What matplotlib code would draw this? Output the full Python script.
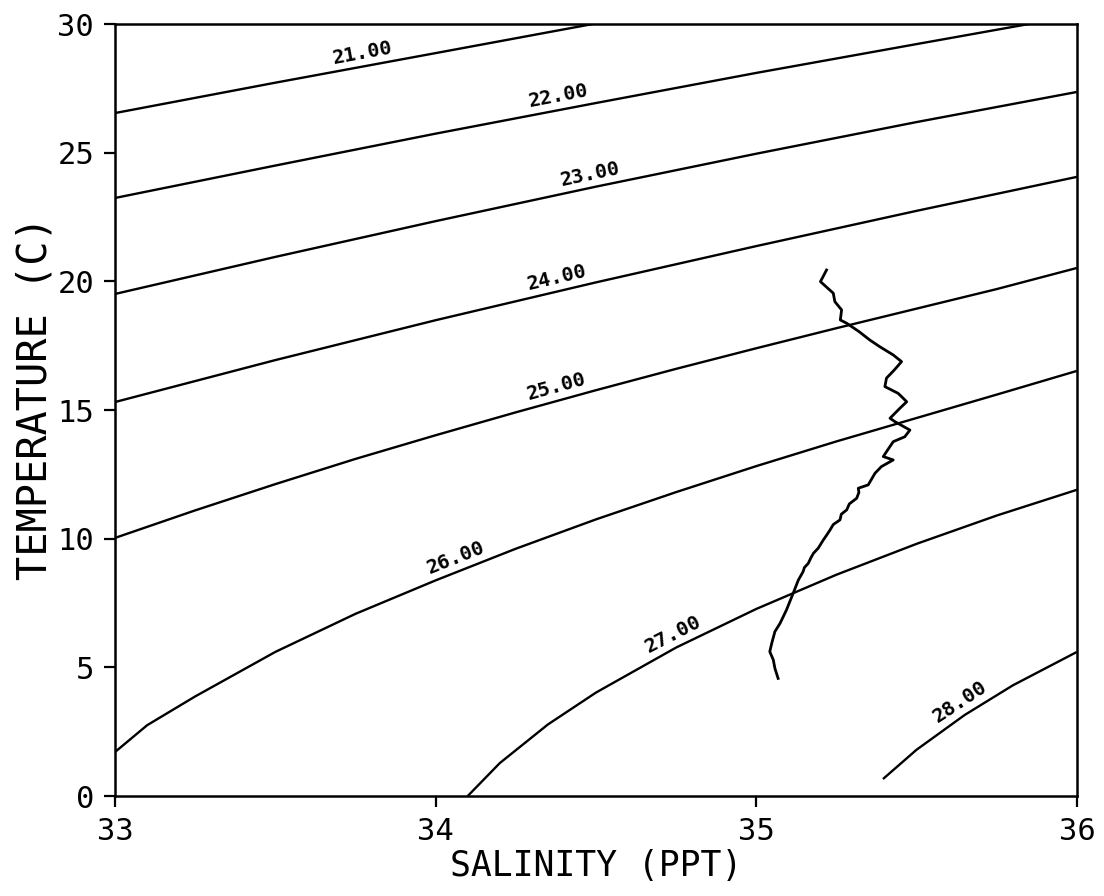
"""T-S diagram: temperature/salinity profile over sigma-t isopycnals."""

import matplotlib
matplotlib.use("Agg")
import matplotlib.pyplot as plt
import numpy as np

# --- isopycnals (salinity ppt, temperature C) ---
sal_21 = [33.0, 33.5, 34.0, 34.49]
temp_21 = [26.54, 27.72, 28.87, 30.0]

sal_22 = [33.0, 33.5, 34.0, 34.5, 35.0, 35.5, 35.85]
temp_22 = [23.24, 24.5, 25.74, 26.93, 28.1, 29.22, 30.0]

sal_23 = [33.0, 33.5, 34.0, 34.5, 35.0, 35.5, 36.0]
temp_23 = [19.51, 20.95, 22.34, 23.68, 24.96, 26.19, 27.36]

sal_24 = [33.0, 33.5, 34.0, 34.5, 35.0, 35.5, 36.0]
temp_24 = [15.31, 16.94, 18.49, 19.96, 21.37, 22.74, 24.06]

sal_25 = [33.0, 33.25, 33.5, 33.75, 34.0, 34.25, 34.5, 34.75, 35.0, 35.25,
          35.5, 35.75, 36.0]
temp_25 = [10.03, 11.1, 12.12, 13.1, 14.02, 14.91, 15.77, 16.6, 17.4, 18.18,
           18.94, 19.7, 20.52]

sal_26 = [33.0, 33.1, 33.25, 33.5, 33.75, 34.0, 34.25, 34.5, 34.75, 35.0,
          35.25, 35.5, 35.75, 36.0]
temp_26 = [1.71, 2.75, 3.87, 5.6, 7.08, 8.38, 9.61, 10.75, 11.81, 12.82,
           13.78, 14.69, 15.6, 16.52]

sal_27 = [34.1, 34.2, 34.35, 34.5, 34.75, 35.0, 35.25, 35.5, 35.75, 36.0]
temp_27 = [0.0, 1.28, 2.78, 4.02, 5.77, 7.27, 8.6, 9.8, 10.9, 11.9]

sal_28 = [35.395, 35.5, 35.65, 35.8, 36.0]
temp_28 = [0.66, 1.8, 3.15, 4.3, 5.6]

sigma_levels = [21.0, 22.0, 23.0, 24.0, 25.0, 26.0, 27.0, 28.0]
label_sal = [33.78, 34.39, 34.49, 34.39, 34.39, 34.08, 34.76, 35.66]

# --- CTD cast ---
cast_sal = [35.219, 35.200, 35.240, 35.245, 35.266, 35.262, 35.282, 35.320,
            35.354, 35.385, 35.427, 35.453, 35.430, 35.406, 35.401, 35.442,
            35.453, 35.469, 35.448, 35.417, 35.432, 35.479, 35.463, 35.427,
            35.406, 35.396, 35.427, 35.390, 35.370, 35.349, 35.318, 35.320,
            35.313, 35.290, 35.282, 35.265, 35.261, 35.240, 35.230, 35.220,
            35.209, 35.193, 35.178, 35.170, 35.162, 35.150, 35.146, 35.131,
            35.115, 35.094, 35.074, 35.058, 35.048, 35.042, 35.053, 35.058,
            35.068]
cast_temp = [20.44, 19.99, 19.54, 19.21, 18.89, 18.50, 18.37, 18.05,
             17.72, 17.46, 17.14, 16.88, 16.55, 16.24, 15.91, 15.65,
             15.52, 15.32, 15.07, 14.68, 14.55, 14.22, 13.96, 13.77,
             13.38, 13.19, 13.06, 12.80, 12.54, 12.09, 11.96, 11.80,
             11.57, 11.35, 11.12, 10.95, 10.73, 10.55, 10.34, 10.15,
             9.95, 9.63, 9.43, 9.25, 9.04, 8.88, 8.72, 8.39,
             7.88, 7.23, 6.71, 6.39, 5.93, 5.61, 5.29, 4.96,
             4.57]

curves = [(sal_21, temp_21), (sal_22, temp_22), (sal_23, temp_23),
          (sal_24, temp_24), (sal_25, temp_25), (sal_26, temp_26),
          (sal_27, temp_27), (sal_28, temp_28)]

fig = plt.figure(figsize=(11.04, 8.96), dpi=100)
ax = fig.add_axes([0.1042, 0.1116, 0.8713, 0.8616])
ax.set_xlim(33, 36)
ax.set_ylim(0, 30)

for (s, t) in curves:
    ax.plot(s, t, color="black", linewidth=1.7, solid_capstyle="butt")

ax.plot(cast_sal, cast_temp, color="black", linewidth=2.0)

# contour labels sitting just above each line, rotated along it
for (s, t), lev, ls in zip(curves, sigma_levels, label_sal):
    lt = np.interp(ls, s, t)
    p0 = ax.transData.transform((ls - 0.05, np.interp(ls - 0.05, s, t)))
    p1 = ax.transData.transform((ls + 0.05, np.interp(ls + 0.05, s, t)))
    ang = np.degrees(np.arctan2(p1[1] - p0[1], p1[0] - p0[0]))
    d = 3.0
    off = (-np.sin(np.radians(ang)) * d, np.cos(np.radians(ang)) * d)
    ax.annotate(f"{lev:.2f}", (ls, lt), textcoords="offset points",
                xytext=off, rotation=ang, rotation_mode="anchor",
                ha="center", va="bottom", fontsize=14.5,
                family="DejaVu Sans Mono", fontweight="bold")

for sp in ax.spines.values():
    sp.set_linewidth(1.8)

ax.set_xticks([33, 34, 35, 36])
ax.set_yticks([0, 5, 10, 15, 20, 25, 30])
ax.tick_params(direction="out", length=8, width=1.6, labelsize=22, pad=7)
for lab in ax.get_xticklabels() + ax.get_yticklabels():
    lab.set_family("DejaVu Sans Mono")

ax.text(0.5, -0.0907, "SALINITY (PPT)", transform=ax.transAxes,
        ha="center", va="center", fontsize=25, family="DejaVu Sans Mono")
ax.text(-0.0832, 0.5155, "TEMPERATURE (C)", transform=ax.transAxes,
        rotation=90, ha="center", va="center", fontsize=29,
        family="DejaVu Sans Mono")

fig.savefig("out.png", dpi=100, facecolor="white")
